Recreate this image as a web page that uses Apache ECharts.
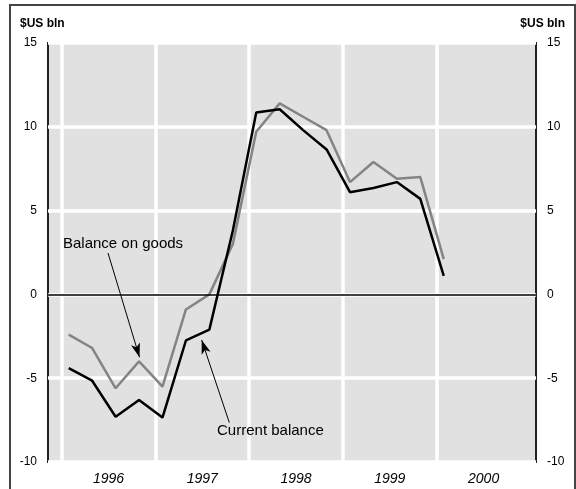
<!DOCTYPE html>
<html>
<head>
<meta charset="utf-8">
<script src="https://cdn.jsdelivr.net/npm/echarts@6/dist/echarts.min.js"></script>
<style>
html,body{margin:0;padding:0;background:#fff;}
#chart{width:576px;height:489px;}
</style>
</head>
<body>
<div id="chart"></div>
<script>
// Quarterly observations (time in years)
var times = [1996.075,1996.325,1996.575,1996.825,1997.075,1997.325,1997.575,1997.825,
             1998.075,1998.325,1998.575,1998.825,1999.075,1999.325,1999.575,1999.825,2000.075];
var goodsBalance = [-2.4,-3.2,-5.6,-4.0,-5.5,-0.9,0.0,3.0,9.7,11.4,10.6,9.8,6.7,7.9,6.9,7.0,2.1];
var currentBalance = [-4.4,-5.15,-7.3,-6.3,-7.35,-2.75,-2.1,3.8,10.85,11.05,9.8,8.65,6.1,6.35,6.7,5.7,1.1];
var yearBoundaries = [1996,1997,1998,1999,2000];
var yearLabelPos = [1996.5,1997.5,1998.5,1999.5,2000.5];
var yTicks = [-10,-5,0,5,10,15];
var unitLabel = '$US bln';

function pairs(xs, ys){ return xs.map(function(x,i){return [x, ys[i]];}); }

var chart = echarts.init(document.getElementById('chart'), null, {renderer:'canvas'});
var fontFam = '"Liberation Sans", Arial, sans-serif';

var option = {
  animation:false,
  backgroundColor:'#fff',
  grid:{left:48, right:40, top:43, bottom:27, show:true, backgroundColor:'#e1e1e1', borderColor:'#222', borderWidth:2},
  xAxis:{
    type:'value', min:1995.854, max:2001.059,
    axisLine:{show:false},
    axisTick:{show:false, customValues:yearBoundaries},
    splitLine:{show:true, lineStyle:{color:'#fff', width:3.5}},
    axisLabel:{customValues:yearLabelPos, formatter:function(v){return String(Math.floor(v));},
      fontStyle:'italic', fontSize:14, color:'#000', fontFamily:fontFam, margin:10}
  },
  yAxis:[
    {type:'value', min:-10, max:15, interval:5, position:'left',
     axisLine:{show:false}, axisTick:{show:false},
     splitLine:{show:true, lineStyle:{color:'#fff', width:3.5}},
     axisLabel:{fontSize:12, color:'#000', fontFamily:fontFam, margin:11}},
    {type:'value', min:-10, max:15, interval:5, position:'right',
     axisLine:{show:false}, axisTick:{show:false}, splitLine:{show:false},
     axisLabel:{fontSize:12, color:'#000', fontFamily:fontFam, margin:11}}
  ],
  series:[
    {type:'line', data:[], z:2, silent:true,
     markLine:{silent:true, symbol:'none', label:{show:false},
       lineStyle:{color:'#000', width:1.5, type:'solid'}, data:[{yAxis:0}]}},
    {name:'Balance on goods', type:'line', data:pairs(times, goodsBalance), showSymbol:false, z:3,
     lineStyle:{color:'#848484', width:2.5}},
    {name:'Current balance', type:'line', data:pairs(times, currentBalance), showSymbol:false, z:4,
     lineStyle:{color:'#000', width:2.5},
     markLine:{silent:true, label:{show:false}, lineStyle:{color:'#000', width:1, type:'solid'},
       symbolSize:[7,14],
       data:[
         [{coord:[1996.494,2.47], symbol:'none'},{coord:[1996.83,-3.75], symbol:'arrow'}],
         [{coord:[1997.788,-7.65], symbol:'none'},{coord:[1997.493,-2.72], symbol:'arrow'}]
       ]}}
  ]
};
chart.setOption(option);

var p1 = chart.convertToPixel({gridIndex:0}, [1996.014, 3.03]);
var p2 = chart.convertToPixel({gridIndex:0}, [1997.657, -8.15]);
chart.setOption({
  graphic:[
    {type:'rect', shape:{x:10, y:5, width:565, height:495}, style:{fill:'none', stroke:'#444', lineWidth:2}, z:100, silent:true},
    {type:'text', x:20, y:24, style:{text:unitLabel, font:'bold 12px '+fontFam, fill:'#000', textVerticalAlign:'middle'}},
    {type:'text', x:565, y:24, style:{text:unitLabel, font:'bold 12px '+fontFam, fill:'#000', textAlign:'right', textVerticalAlign:'middle'}},
    {type:'text', x:p1[0], y:p1[1], z:50, style:{text:'Balance on goods', font:'15px '+fontFam, fill:'#000', textVerticalAlign:'middle'}},
    {type:'text', x:p2[0], y:p2[1], z:50, style:{text:'Current balance', font:'15px '+fontFam, fill:'#000', textVerticalAlign:'middle'}}
  ]
});
</script>
</body>
</html>
